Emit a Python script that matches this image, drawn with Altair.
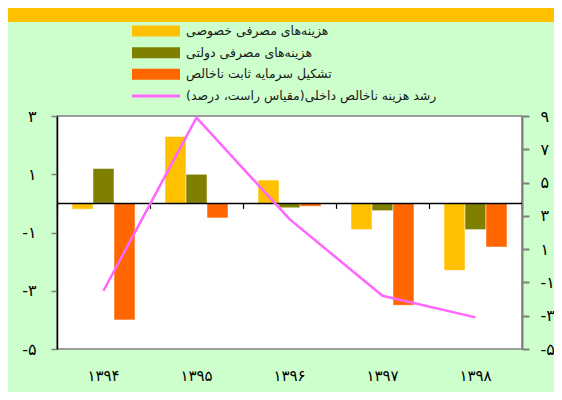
import altair as alt
import pandas as pd

# ---- data ----
years = ["۱۳۹۴", "۱۳۹۵", "۱۳۹۶", "۱۳۹۷", "۱۳۹۸"]
series_names = [
    "هزینه‌های مصرفی خصوصی",
    "هزینه‌های مصرفی دولتی",
    "تشکیل سرمایه ثابت ناخالص",
]
line_name = "رشد هزینه ناخالص داخلی(مقیاس راست، درصد)"
private = [-0.2, 2.3, 0.8, -0.9, -2.3]
government = [1.2, 1.0, -0.15, -0.25, -0.9]
investment = [-4.0, -0.5, -0.1, -3.5, -1.5]
growth = [-1.5, 8.9, 2.8, -1.8, -3.1]
left_ticks = [3, 1, -1, -3, -5]
right_ticks = [9, 7, 5, 3, 1, -1, -3, -5]
colors = ["#FFC000", "#808000", "#FF6600", "#FF66FF"]

all_names = series_names + [line_name]

rows = []
for name, vals in zip(series_names, [private, government, investment]):
    for y, v in zip(years, vals):
        rows.append({"year": y, "series": name, "value": v})
bar_df = pd.DataFrame(rows)
line_df = pd.DataFrame({"year": years, "growth": growth})
leg_df = pd.DataFrame({"name": all_names})
zero_df = pd.DataFrame({"z": [0]})

FA = str.maketrans("0123456789", "۰۱۲۳۴۵۶۷۸۹")


def fa(n):
    s = str(abs(n)).translate(FA)
    return ("-" + s) if n < 0 else s


def label_expr(vals):
    expr = "''"
    for v in reversed(vals):
        expr = f"datum.value == {v} ? '{fa(v)}' : ({expr})"
    return expr


FONT = "DejaVu Sans"

# header band (decoration)
header = alt.Chart(alt.Data(values=[{}])).mark_rect(color="#FFC000").encode(
    x=alt.value(-49), x2=alt.value(497), y=alt.value(-108), y2=alt.value(-94)
)

bars = alt.Chart(bar_df).mark_bar(
    stroke="#ffffff", strokeOpacity=0.5, strokeWidth=1
).encode(
    x=alt.X(
        "year:N", sort=years,
        scale=alt.Scale(paddingInner=0, paddingOuter=0),
        axis=alt.Axis(orient="bottom", offset=-145.6, labels=False, domain=False,
                      ticks=True, tickBand="extent", tickColor="black", tickSize=5,
                      tickWidth=1.2, title=None, grid=False),
    ),
    xOffset=alt.XOffset("series:N", sort=series_names,
                        scale=alt.Scale(paddingInner=0, paddingOuter=0.714)),
    y=alt.Y(
        "value:Q",
        scale=alt.Scale(domain=[-5, 3], nice=False, zero=False),
        axis=alt.Axis(orient="left", values=left_ticks, labelExpr=label_expr(left_ticks),
                      title=None, grid=False, domainColor="black", domainWidth=1.5,
                      tickColor="#808080", tickWidth=1.5, tickSize=6, labelPadding=15,
                      labelFontSize=16, labelColor="black", labelFont=FONT),
    ),
    color=alt.Color("series:N", scale=alt.Scale(domain=all_names, range=colors), legend=None),
)

zero = alt.Chart(zero_df).mark_rule(color="black", strokeWidth=1.5).encode(
    y=alt.Y("z:Q")
)

line = alt.Chart(line_df).mark_line(color="#FF66FF", strokeWidth=2.5).encode(
    x=alt.X("year:N", sort=years,
            axis=alt.Axis(orient="bottom", labels=True, domain=False, ticks=False,
                          labelPadding=19, labelFontSize=15, labelColor="black",
                          labelFont=FONT, labelAngle=0, title=None, grid=False)),
    y=alt.Y(
        "growth:Q",
        scale=alt.Scale(domain=[-5, 9], nice=False, zero=False),
        axis=alt.Axis(orient="right", values=right_ticks, labelExpr=label_expr(right_ticks),
                      title=None, grid=False, domainColor="#808080", domainWidth=2,
                      tickColor="#808080", tickWidth=2, tickSize=7, labelPadding=11,
                      labelFontSize=16, labelColor="black", labelFont=FONT),
    ),
)

rect_path = "M-1,-0.23H1V0.23H-1Z"
line_path = "M-1,-0.06H1V0.06H-1Z"
leg_y = alt.Y("name:N", sort=all_names,
              scale=alt.Scale(type="point", domain=all_names, range=[-85, -20], padding=0),
              axis=None)
leg_sym = alt.Chart(leg_df).mark_point(filled=True, opacity=1, size=2304).encode(
    x=alt.value(99),
    y=leg_y,
    color=alt.Color("name:N", scale=alt.Scale(domain=all_names, range=colors), legend=None),
    shape=alt.Shape("name:N",
                    scale=alt.Scale(domain=all_names,
                                    range=[rect_path, rect_path, rect_path, line_path]),
                    legend=None),
)
leg_txt = alt.Chart(leg_df).mark_text(
    align="left", baseline="middle", fontSize=12.5, font=FONT, color="#1a1a1a"
).encode(x=alt.value(129), y=leg_y, text="name:N")

chart = alt.layer(
    header,
    alt.layer(bars, zero),
    line,
    alt.layer(leg_sym, leg_txt),
).resolve_scale(y="independent").resolve_axis(x="independent").properties(
    width=465,
    height=233,
    padding={"left": 49, "top": 108, "right": 32, "bottom": 43},
    autosize=alt.AutoSizeParams(type="none"),
    background="#CCFFCC",
).configure_view(fill="white", stroke="#808080", strokeWidth=1.5)

chart.save("out.html", embed_options={"renderer": "svg", "actions": False})
